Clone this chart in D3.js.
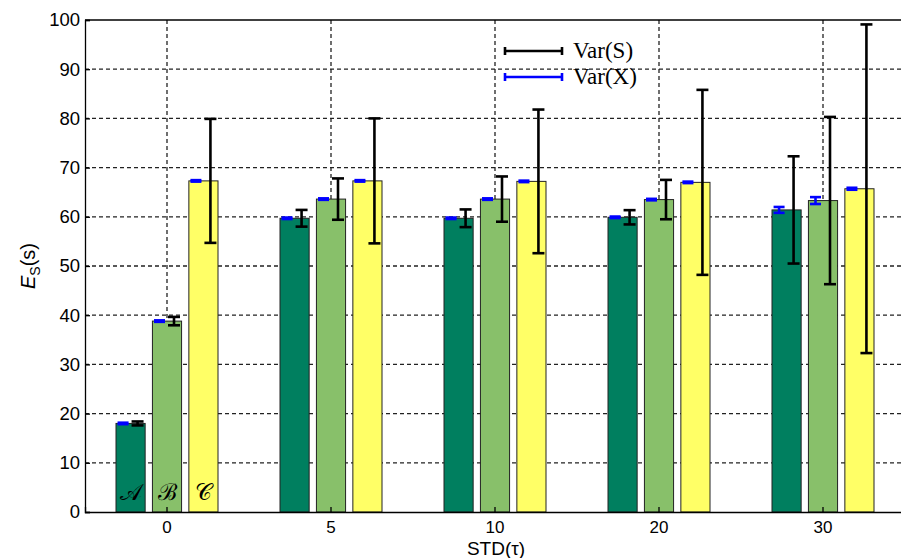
<!DOCTYPE html>
<html>
<head>
<meta charset="utf-8">
<script src="https://cdn.jsdelivr.net/npm/d3@7"></script>
<style>
  body { margin: 0; background: #fff; }
  svg { display: block; }
</style>
</head>
<body>
<script>
// groups on the x axis (STD of tau)
var groups = ["0", "5", "10", "20", "30"];
var series = ["A", "B", "C"];
var seriesLabels = ["\uD835\uDC9C", "\u212C", "\uD835\uDC9E"];
var seriesColors = ["#007f5f", "#88c06a", "#ffff66"];

// mean E_S(s) for A, B, C per group
var meanA = [18.0, 59.7, 59.7, 59.9, 61.4];
var meanB = [38.8, 63.6, 63.6, 63.5, 63.3];
var meanC = [67.3, 67.3, 67.2, 67.0, 65.7];

// half width of the Var(S) error bars
var varSA = [0.4, 1.7, 1.8, 1.45, 10.9];
var varSB = [0.85, 4.2, 4.6, 4.0, 17.0];
var varSC = [12.6, 12.7, 14.6, 18.8, 33.4];

// half width of the Var(X) error bars
var varXA = [0.15, 0.15, 0.15, 0.15, 0.6];
var varXB = [0.15, 0.15, 0.15, 0.15, 0.7];
var varXC = [0.15, 0.15, 0.15, 0.15, 0.2];

var yTicks = [0, 10, 20, 30, 40, 50, 60, 70, 80, 90, 100];

var W = 901, H = 558;
var mLeft = 85, mRight = 905, mTop = 20, mBottom = 512;

var rows = [];
groups.forEach(function(g, i) {
  rows.push({group: g, s: 0, key: "A", mean: meanA[i], vs: varSA[i], vx: varXA[i]});
  rows.push({group: g, s: 1, key: "B", mean: meanB[i], vs: varSB[i], vx: varXB[i]});
  rows.push({group: g, s: 2, key: "C", mean: meanC[i], vs: varSC[i], vx: varXC[i]});
});

var svg = d3.select("body").append("svg")
  .attr("width", W)
  .attr("height", H);

var x0 = d3.scaleBand().domain(groups).range([mLeft, mRight]);
var x1 = d3.scaleBand().domain(series).range([-51, 51]).paddingInner(0.2);
var y = d3.scaleLinear().domain([0, 100]).range([mBottom, mTop]);

function cx(g) { return x0(g) + x0.bandwidth() / 2; }

// grid
var grid = svg.append("g").attr("class", "grid");
grid.selectAll(".hg").data(yTicks.slice(1, -1)).enter().append("line")
  .attr("x1", mLeft).attr("x2", mRight)
  .attr("y1", function(d) { return y(d); })
  .attr("y2", function(d) { return y(d); })
  .attr("stroke", "#222").attr("stroke-width", 1.3)
  .attr("stroke-dasharray", "4,3");
grid.selectAll(".vg").data(groups).enter().append("line")
  .attr("x1", function(d) { return cx(d); })
  .attr("x2", function(d) { return cx(d); })
  .attr("y1", mTop).attr("y2", mBottom)
  .attr("stroke", "#222").attr("stroke-width", 1.3)
  .attr("stroke-dasharray", "4,3");

// bars
svg.append("g").selectAll("rect").data(rows).enter().append("rect")
  .attr("x", function(d) { return cx(d.group) + x1(d.key); })
  .attr("y", function(d) { return y(d.mean); })
  .attr("width", x1.bandwidth())
  .attr("height", function(d) { return y(0) - y(d.mean); })
  .attr("fill", function(d) { return seriesColors[d.s]; })
  .attr("stroke", "#222")
  .attr("stroke-width", 1);

// error bars
function errorBars(cls, color, offset, cap, field) {
  var eg = svg.append("g").attr("class", cls);
  var ex = function(d) { return cx(d.group) + x1(d.key) + x1.bandwidth() / 2 + offset; };
  eg.selectAll(".stem").data(rows).enter().append("line")
    .attr("x1", ex).attr("x2", ex)
    .attr("y1", function(d) { return y(d.mean + d[field]); })
    .attr("y2", function(d) { return y(d.mean - d[field]); })
    .attr("stroke", color).attr("stroke-width", 2.6);
  [1, -1].forEach(function(sgn) {
    eg.selectAll(".cap" + sgn).data(rows).enter().append("line")
      .attr("x1", function(d) { return ex(d) - cap / 2; })
      .attr("x2", function(d) { return ex(d) + cap / 2; })
      .attr("y1", function(d) { return y(d.mean + sgn * d[field]); })
      .attr("y2", function(d) { return y(d.mean + sgn * d[field]); })
      .attr("stroke", color).attr("stroke-width", 2.6);
  });
}
errorBars("varx", "#0000ff", -7.5, 11, "vx");
errorBars("vars", "#000", 7, 12, "vs");

// axes
var yAxis = svg.append("g")
  .attr("transform", "translate(" + mLeft + ",0)")
  .call(d3.axisLeft(y).tickValues(yTicks).tickSize(-5).tickPadding(5));
var xAxis = svg.append("g")
  .attr("transform", "translate(0," + mBottom + ")")
  .call(d3.axisBottom(x0).tickSize(-5).tickPadding(9));
[yAxis, xAxis].forEach(function(a) {
  a.select(".domain").attr("stroke", "#000").attr("stroke-width", 1.3);
  a.selectAll(".tick line").attr("stroke", "#000").attr("stroke-width", 1.3);
  a.selectAll("text").attr("font-family", "Liberation Sans, Arial, sans-serif")
    .attr("font-size", 18.5).attr("fill", "#000");
});
xAxis.selectAll("text").attr("font-size", 17);

// top frame line
svg.append("line")
  .attr("x1", mLeft).attr("x2", mRight)
  .attr("y1", mTop).attr("y2", mTop)
  .attr("stroke", "#000").attr("stroke-width", 1.3);

// series letters inside the first group
svg.append("g").selectAll("text").data(series).enter().append("text")
  .attr("x", function(d) { return cx(groups[0]) + x1(d) + x1.bandwidth() / 2; })
  .attr("y", 500)
  .attr("text-anchor", "middle")
  .attr("font-family", "DejaVu Serif, serif")
  .attr("font-size", 23)
  .attr("fill", "#000")
  .text(function(d, i) { return seriesLabels[i]; });

// axis labels
svg.append("text")
  .attr("x", 496).attr("y", 555)
  .attr("text-anchor", "middle")
  .attr("font-family", "Liberation Sans, Arial, sans-serif")
  .attr("font-size", 19)
  .text("STD(\u03C4)");

var yl = svg.append("text")
  .attr("transform", "translate(35,266) rotate(-90)")
  .attr("text-anchor", "middle")
  .attr("font-family", "Liberation Sans, Arial, sans-serif")
  .attr("font-size", 20);
yl.append("tspan").attr("font-style", "italic").text("E");
yl.append("tspan").attr("font-size", 14).attr("dy", 5).text("S");
yl.append("tspan").attr("dy", -5).text("(s)");

// legend
var legend = svg.append("g").attr("class", "legend");
var legendItems = [{label: "Var(S)", color: "#000", y: 51}, {label: "Var(X)", color: "#0000ff", y: 77}];
legendItems.forEach(function(it) {
  legend.append("line").attr("x1", 505).attr("x2", 562).attr("y1", it.y).attr("y2", it.y)
    .attr("stroke", it.color).attr("stroke-width", 2.6);
  [505, 562].forEach(function(xx) {
    legend.append("line").attr("x1", xx).attr("x2", xx).attr("y1", it.y - 4).attr("y2", it.y + 4)
      .attr("stroke", it.color).attr("stroke-width", 2.6);
  });
  legend.append("text").attr("x", 573).attr("y", it.y + 7)
    .attr("font-family", "Liberation Serif, Times New Roman, serif")
    .attr("font-size", 23).attr("fill", "#000")
    .text(it.label);
});
</script>
</body>
</html>
